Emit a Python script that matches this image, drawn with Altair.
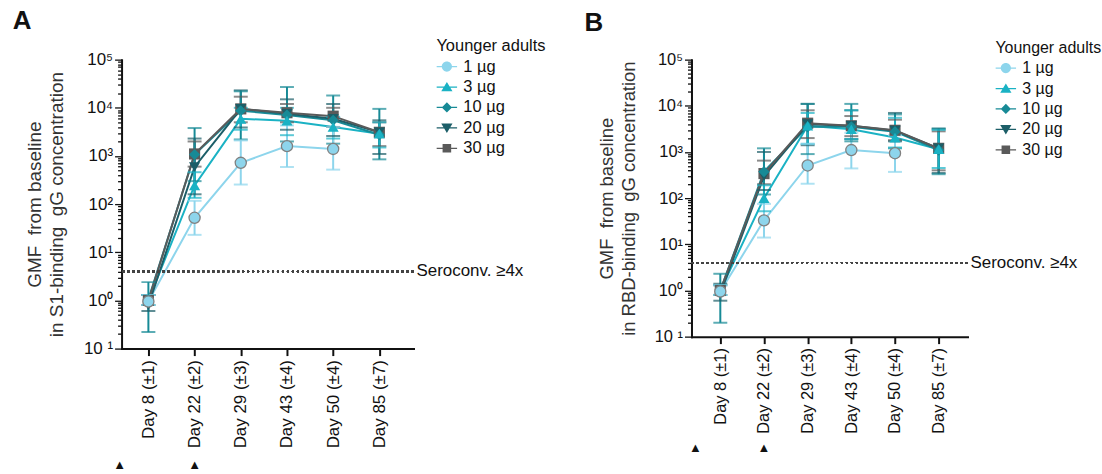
import altair as alt
import pandas as pd

days = ["Day 8 (±1)", "Day 22 (±2)", "Day 29 (±3)", "Day 43 (±4)", "Day 50 (±4)", "Day 85 (±7)"]
doses = ["1 µg", "3 µg", "10 µg", "20 µg", "30 µg"]
dose_colors = ["#8dd5ec", "#1ab2c4", "#178a96", "#1c5e68", "#5a5a5a"]
dose_shapes = ["circle", "triangle-up", "diamond", "triangle-down", "square"]
# legend glyphs: marker with a short line through it
legend_shapes = [
    "M-1,-0.06H1V0.06H-1Z M-0.5,0A0.5,0.5 0 1,1 0.5,0A0.5,0.5 0 1,1 -0.5,0Z",
    "M-1,-0.06H1V0.06H-1Z M0,-0.5L0.55,0.42L-0.55,0.42Z",
    "M-1,-0.06H1V0.06H-1Z M0,-0.5L0.5,0L0,0.5L-0.5,0Z",
    "M-1,-0.06H1V0.06H-1Z M-0.55,-0.42L0.55,-0.42L0,0.5Z",
    "M-1,-0.06H1V0.06H-1Z M-0.42,-0.42H0.42V0.42H-0.42Z",
]

# Panel A: S1-binding IgG, GMF from baseline
a_gmf = {
    "1 µg":  [0.95, 52, 720, 1600, 1400, None],
    "3 µg":  [1.0, 245, 5900, 5400, 4000, 2900],
    "10 µg": [1.05, 1070, 8700, 7100, 5500, 2750],
    "20 µg": [0.8, 590, 9500, 7500, 5900, 3100],
    "30 µg": [1.0, 1100, 9500, 7900, 6700, 3100],
}
a_lo = {
    "1 µg":  [0.8, 23, 255, 590, 520, None],
    "3 µg":  [0.8, 135, 3500, 2700, 2300, 1500],
    "10 µg": [0.22, 300, 2200, 2000, 1800, 850],
    "20 µg": [0.6, 160, 3900, 3500, 2600, 1100],
    "30 µg": [0.8, 600, 5000, 5000, 4000, 1600],
}
a_hi = {
    "1 µg":  [1.3, 117, 2100, 4300, 4000, None],
    "3 µg":  [1.3, 460, 10000, 10000, 6500, 5000],
    "10 µg": [2.4, 3800, 22000, 27000, 18000, 9500],
    "20 µg": [1.3, 2300, 23000, 15000, 12000, 5500],
    "30 µg": [1.3, 2000, 17000, 12000, 10000, 5000],
}

# Panel B: RBD-binding IgG, GMF from baseline
b_gmf = {
    "1 µg":  [0.95, 33, 510, 1100, 940, None],
    "3 µg":  [1.0, 100, 3700, 3100, 2050, 1150],
    "10 µg": [1.0, 375, 3500, 3500, 2750, 1100],
    "20 µg": [0.85, 300, 4000, 3700, 2900, 1200],
    "30 µg": [1.0, 340, 4200, 3700, 2950, 1200],
}
b_lo = {
    "1 µg":  [0.8, 14, 205, 440, 370, None],
    "3 µg":  [0.8, 52, 1500, 1900, 1250, 450],
    "10 µg": [0.2, 120, 900, 1700, 1200, 330],
    "20 µg": [0.6, 150, 1400, 1900, 1700, 350],
    "30 µg": [0.8, 200, 2000, 2200, 1800, 400],
}
b_hi = {
    "1 µg":  [1.3, 75, 1500, 2600, 2300, None],
    "3 µg":  [1.3, 190, 7000, 8000, 5500, 3000],
    "10 µg": [2.3, 1200, 11000, 11000, 6500, 3200],
    "20 µg": [1.4, 1000, 11000, 8000, 7000, 3200],
    "30 µg": [1.3, 650, 8000, 6000, 5000, 2800],
}

seroconv = 4
tick_values = [round(m * 10 ** k, 6) for k in range(-1, 5) for m in range(1, 10)] + [100000]
dose_marker_days = ["Day 22 (±2)"]

label_expr = ("datum.value==100000?'10⁵':datum.value==10000?'10⁴':datum.value==1000?'10³':"
              "datum.value==100?'10²':datum.value==10?'10¹':datum.value==1?'10⁰':"
              "datum.value==0.1?'10 ¹':''")
major_test = "abs(log(datum.value)/LN10 - round(log(datum.value)/LN10)) < 0.001"


def long_df(gmf, lo, hi):
    rows = []
    for j, d in enumerate(doses):
        for i, day in enumerate(days):
            if gmf[d][i] is None:
                continue
            rows.append({"day": day, "dose": d, "rank": j, "shp": dose_shapes[j], "gmf": gmf[d][i],
                         "lo": lo[d][i], "hi": hi[d][i], "ref": seroconv, "t": "Seroconv. ≥4x"})
    return pd.DataFrame(rows)


def panel(letter, gmf, lo, hi, ytitle, width, height, pad, align, legx, legy, legfont, tri_off,
          tfont, lfont, xfont, tpad, tri0x):
    df = long_df(gmf, lo, hi)
    xs = alt.Scale(type="point", domain=days, padding=pad, align=align)
    ys = alt.Scale(type="log", domain=[0.1, 100000], nice=False)
    legend = alt.Legend(title="Younger adults", orient="none", legendX=legx, legendY=legy,
                        titleFontSize=legfont, labelFontSize=legfont, titleFontWeight="normal",
                        symbolSize=420, rowPadding=1.5, titlePadding=2, labelOffset=6,
                        symbolOpacity=1, symbolStrokeWidth=0,
                        titleColor="#111", labelColor="#111")
    color = alt.Color("dose:N", scale=alt.Scale(domain=doses, range=dose_colors), legend=legend)
    shape_leg = alt.Shape("dose:N", scale=alt.Scale(domain=doses, range=legend_shapes), legend=legend)
    shape_pt = alt.Shape("shp:N", scale=None)
    order = alt.Order("rank:Q", sort="descending")
    xaxis = alt.Axis(title=None, labelAngle=-90, labelFontSize=xfont, labelColor="#111",
                     domainColor="#111", domainWidth=2, tickColor="#111", tickWidth=2,
                     tickSize=7, labelPadding=4, labelAlign="right", labelBaseline="middle")
    yaxis = alt.Axis(title=ytitle, values=tick_values, labelExpr=label_expr,
                     titleFontSize=tfont, titleFontWeight="normal", titleColor="#333",
                     titleLineHeight=22, titlePadding=tpad,
                     labelFontSize=lfont, labelColor="#111", labelPadding=2,
                     domainColor="#111", domainWidth=2, tickColor="#111", tickWidth=1.3,
                     tickSize={"condition": {"test": major_test, "value": 7}, "value": 4},
                     grid=False, labelOverlap=False, labelBound=False)
    X = alt.X("day:N", scale=xs, sort=days, axis=xaxis)

    def Yf(f):
        return alt.Y(f, scale=ys, axis=yaxis)

    base = alt.Chart(df)
    lines = base.mark_line(strokeWidth=2).encode(x=X, y=Yf("gmf:Q"), color=color, detail="dose:N")
    leg_layer = base.mark_point(filled=True, opacity=0).encode(
        x=X, y=Yf("gmf:Q"), color=color, shape=shape_leg, opacity=alt.value(0))
    rule_seroconv = base.mark_rule(strokeDash=[2, 3], strokeWidth=1.4, color="#444").encode(
        y=Yf("ref:Q"))
    text_seroconv = base.transform_filter(alt.datum.dose == "1 µg").transform_filter(
        alt.datum.day == days[0]).mark_text(
        align="left", baseline="middle", fontSize=17, color="#111", dx=3).encode(
        x=alt.value(width), y=Yf("ref:Q"), text="t:N")
    err = base.mark_rule(strokeWidth=2).encode(x=X, y=Yf("lo:Q"), y2="hi:Q", color=color, order=order)
    cap_lo = base.mark_tick(size=14, thickness=2).encode(x=X, y=Yf("lo:Q"), color=color, order=order)
    cap_hi = base.mark_tick(size=14, thickness=2).encode(x=X, y=Yf("hi:Q"), color=color, order=order)
    pts = base.mark_point(filled=True, size=125, opacity=1, strokeWidth=1.3).encode(
        x=X, y=Yf("gmf:Q"), color=color, shape=shape_pt, order=order,
        stroke=alt.condition("datum.dose == '1 µg'", alt.value("#808080"), alt.value("transparent")))
    tri_df = pd.DataFrame({"day": dose_marker_days, "t": ["▲"]})
    tri = alt.Chart(tri_df).mark_text(fontSize=13, color="#111").encode(
        x=alt.X("day:N", scale=xs, sort=days, axis=xaxis), y=alt.value(height + tri_off), text="t:N")
    tri0 = alt.Chart(tri_df).mark_text(fontSize=13, color="#111").encode(
        x=alt.value(tri0x), y=alt.value(height + tri_off), text=alt.value("▲"))
    return alt.layer(lines, leg_layer, rule_seroconv, err, cap_lo, cap_hi, pts, text_seroconv,
                     tri, tri0).properties(
        width=width, height=height,
        title=alt.TitleParams(letter, anchor="start", frame="bounds", fontSize=26, fontWeight="bold",
                              dx=-13, offset=4, color="#111"))


pa = panel("A", a_gmf, a_lo, a_hi,
           ["GMF\u00a0 from baseline", "in S1-binding\u00a0 gG concentration"],
           293, 290, 0.66, 0.44, 316, -22, 16.5, 117, 19, 17, 17, 17, -2)
pb = panel("B", b_gmf, b_lo, b_hi,
           ["GMF\u00a0 from baseline", "in RBD-binding\u00a0 gG concentration"],
           277, 278, 0.66, 0.5, 305, -20, 16, 112, 18.5, 16.5, 16.5, 16, 4)

chart = alt.hconcat(pa, pb, spacing=38).resolve_scale(color="independent", shape="independent").properties(
    padding={"left": 12, "top": 7, "right": 0, "bottom": 0}).configure(
    font="Liberation Sans").configure_view(stroke=None).configure_axis(domainCap="square")

chart.save("out.html", embed_options={"renderer": "svg", "actions": False})
